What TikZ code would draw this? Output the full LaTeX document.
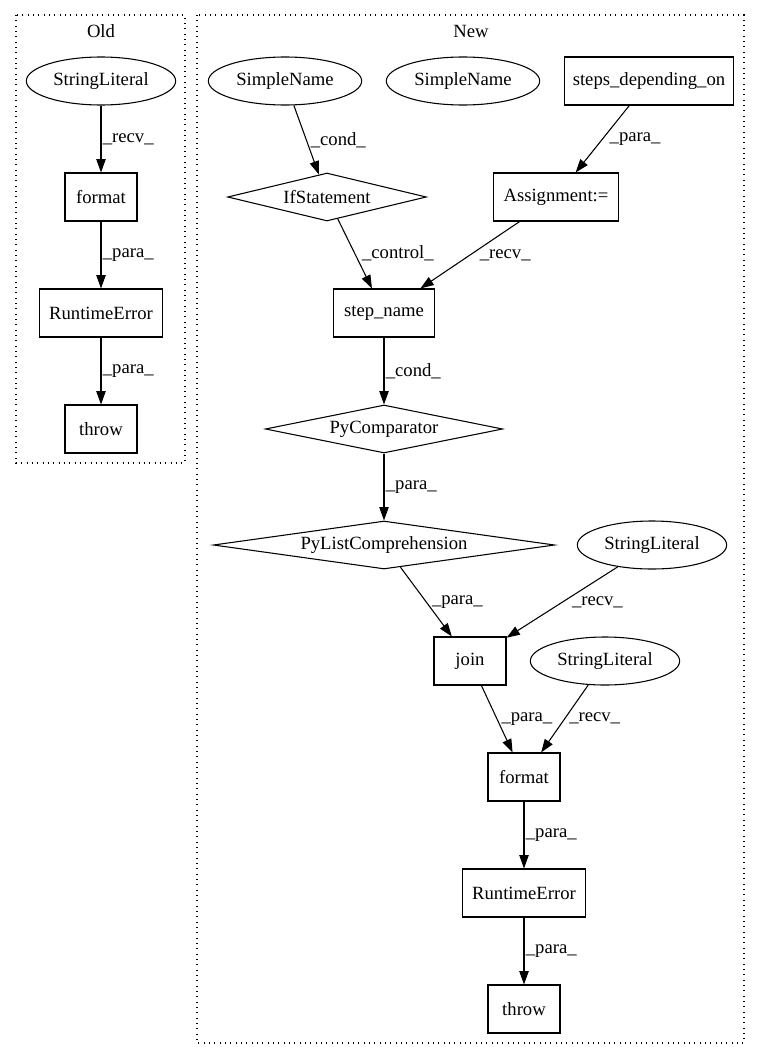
\documentclass[tikz,border=0pt]{standalone}
\usepackage{fontspec}
\setmainfont{Liberation Serif}
\usetikzlibrary{shapes.geometric,arrows.meta}

\begin{document}
\begin{tikzpicture}[
  x=0.75pt, y=-0.75pt,
  every node/.style={font=\fontsize{14pt}{16pt}\selectfont},
  block/.style={rectangle, draw, line width=0.8pt, minimum height=36pt, inner sep=0pt, text centered},
  literal/.style={ellipse, draw, line width=0.8pt, minimum height=36pt, inner sep=0pt},
  decision/.style={diamond, draw, line width=0.8pt, minimum height=36pt, inner sep=0pt},
  line/.style={draw, line width=0.8pt, -{Triangle[length=10pt,width=7pt]}},
  lbl/.style={midway, anchor=west, inner sep=1pt},
  cluster/.style={draw, line width=0.8pt, dash pattern=on 0.8pt off 3.2pt}
]
\useasboundingbox (0,0) rectangle (761,1060);

\draw [cluster] (16,15) rectangle (185,463);
\draw [cluster] (197,15) rectangle (744,1043);
\node (oldtitle) at (101,31) {Old};
\node (newtitle) at (471,31) {New};

\node [literal, minimum width=112pt] (oldlit) at (101,81) {StringLiteral};
\node [block, below of=oldlit, node distance=87pt, minimum width=54pt] (oldformat) {format};
\node [block, below of=oldformat, node distance=87pt, minimum width=92pt] (olderror) {RuntimeError};
\node [block, below of=olderror, node distance=87pt, minimum width=54pt] (oldthrow) {throw};

\node [literal, minimum width=115pt] (name1) at (285,81) {SimpleName};
\node [literal, minimum width=115pt] (name2) at (463,81) {SimpleName};
\node [block, minimum width=127pt] (steps) at (649,81) {steps\_depending\_on};
\node [decision, minimum width=149pt, shape aspect=4] (ifstmt) at (327,197) {IfStatement};
\node [block, minimum width=94pt] (assign) at (556,197) {Assignment:=};
\node [block, minimum width=76pt] (stepname) at (384,313) {step\_name};
\node [decision, below of=stepname, node distance=87pt, minimum width=178pt, shape aspect=5] (comparator) {PyComparator};
\node [decision, below of=comparator, node distance=87pt, minimum width=256pt, shape aspect=7] (listcomp) {PyListComprehension};
\node [literal, minimum width=112pt] (lit1) at (652,545) {StringLiteral};
\node [block, minimum width=54pt] (join) at (470,661) {join};
\node [literal, minimum width=112pt] (lit2) at (605,661) {StringLiteral};
\node [block, minimum width=54pt] (format) at (524,777) {format};
\node [block, below of=format, node distance=87pt, minimum width=92pt] (error) {RuntimeError};
\node [block, below of=error, node distance=87pt, minimum width=54pt] (throw) {throw};

\path [line] (oldlit) -- node[lbl] {\_recv\_} (oldformat);
\path [line] (oldformat) -- node[lbl] {\_para\_} (olderror);
\path [line] (olderror) -- node[lbl] {\_para\_} (oldthrow);

\path [line] (name1) -- node[lbl, xshift=2pt] {\_cond\_} (ifstmt);
\path [line] (steps) -- node[lbl, xshift=4pt] {\_para\_} (assign);
\path [line] (ifstmt) -- node[lbl, xshift=4pt] {\_control\_} (stepname);
\path [line] (assign) -- node[lbl, xshift=6pt] {\_recv\_} (stepname);
\path [line] (stepname) -- node[lbl] {\_cond\_} (comparator);
\path [line] (comparator) -- node[lbl] {\_para\_} (listcomp);
\path [line] (listcomp) -- node[lbl, xshift=3pt] {\_para\_} (join);
\path [line] (lit1) -- node[lbl, xshift=6pt] {\_recv\_} (join);
\path [line] (join) -- node[lbl, xshift=2pt] {\_para\_} (format);
\path [line] (lit2) -- node[lbl, xshift=2pt] {\_recv\_} (format);
\path [line] (format) -- node[lbl] {\_para\_} (error);
\path [line] (error) -- node[lbl] {\_para\_} (throw);
\end{tikzpicture}
\end{document}
